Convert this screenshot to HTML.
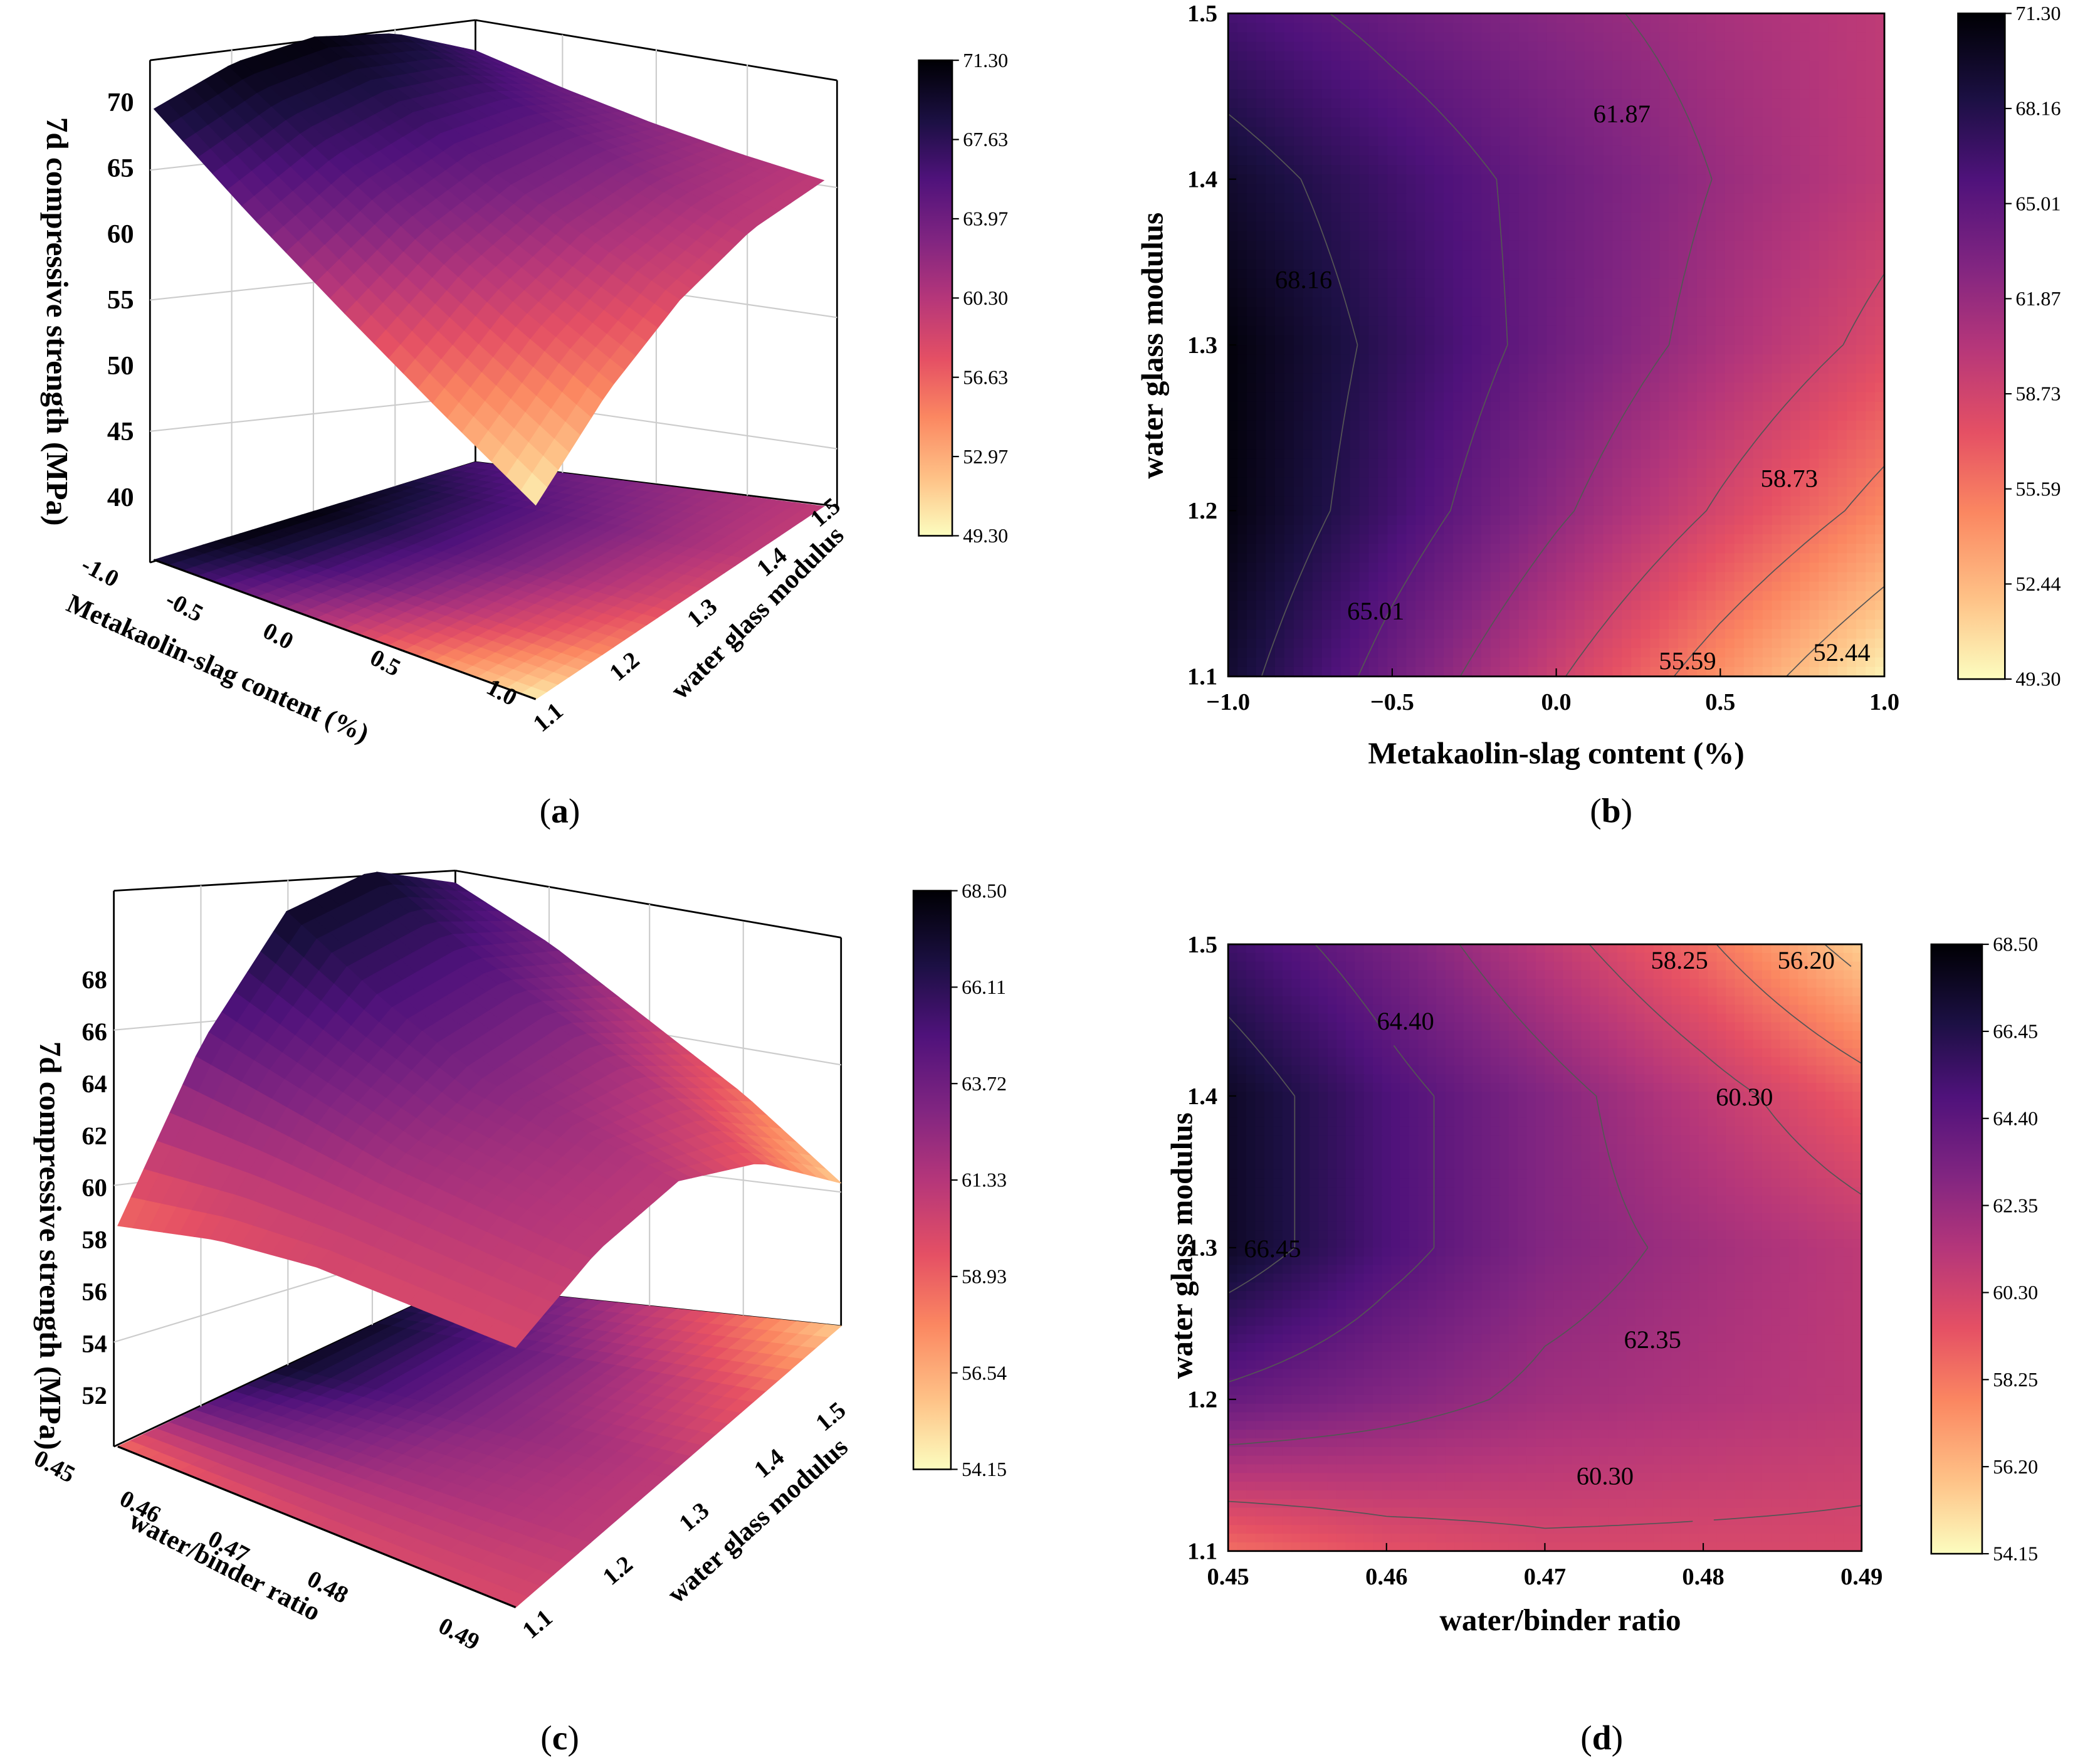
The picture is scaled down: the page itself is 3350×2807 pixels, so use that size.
<!DOCTYPE html>
<html><head><meta charset="utf-8"><style>
html,body{margin:0;padding:0;background:#fff;}
svg{display:block;font-family:"Liberation Serif",serif;}
</style></head><body>
<svg id="fig" width="3350" height="2807" viewBox="0 0 1568 1314" preserveAspectRatio="none" xmlns="http://www.w3.org/2000/svg">
<defs>
<linearGradient id="cmap" x1="0" y1="1" x2="0" y2="0">
<stop offset="0" stop-color="rgb(252,253,191)"/><stop offset="0.12" stop-color="rgb(254,194,135)"/><stop offset="0.25" stop-color="rgb(251,135,97)"/><stop offset="0.37" stop-color="rgb(229,80,100)"/><stop offset="0.5" stop-color="rgb(181,54,122)"/><stop offset="0.62" stop-color="rgb(129,37,129)"/><stop offset="0.75" stop-color="rgb(79,18,123)"/><stop offset="0.87" stop-color="rgb(28,16,68)"/><stop offset="1" stop-color="rgb(0,0,4)"/>
</linearGradient>
</defs>
<g id="pa"></g>
<g id="pb"></g>
<g id="pc"></g>
<g id="pd"></g>
<g id="txt" font-size="19"></g>
</svg>
<script>
// ---- data ----
const bX=[-1,-0.5,0,0.5,1];
const bY=[1.1,1.2,1.3,1.4,1.5];
const bZ=[[69.25,63.9,59.0,54.25,49.75],[70.9,66.5,62.3,58.4,54.7],[71.0,67.4,64.0,60.9,58.0],[69.4,66.6,64.1,61.75,59.7],[66.25,64.25,62.5,61.0,59.75]];
const dX=[0.45,0.46,0.47,0.48,0.49];
const dY=[1.1,1.2,1.3,1.4,1.5];
const dZ=[[58.5,59.5,60.0,60.0,60.0],[64.0,63.0,62.0,61.5,61.0],[67.5,65.0,63.0,62.0,61.0],[67.5,65.0,63.0,61.0,59.0],[65.5,63.5,61.0,58.5,55.5]];
const abRange=[49.3,71.3];
const cdRange=[54.15,68.5];
const abBarTicks=["71.30","67.63","63.97","60.30","56.63","52.97","49.30"];
const bBarTicks=["71.30","68.16","65.01","61.87","58.73","55.59","52.44","49.30"];
const cBarTicks=["68.50","66.11","63.72","61.33","58.93","56.54","54.15"];
const dBarTicks=["68.50","66.45","64.40","62.35","60.30","58.25","56.20","54.15"];
const bXTicks=["−1.0","−0.5","0.0","0.5","1.0"];
const bYTicks=["1.1","1.2","1.3","1.4","1.5"];
const dXTicks=["0.45","0.46","0.47","0.48","0.49"];
const dYTicks=["1.1","1.2","1.3","1.4","1.5"];
const aZTicks=[40,45,50,55,60,65,70];
const cZTicks=[52,54,56,58,60,62,64,66,68];
const bLevels=[52.44,55.59,58.73,61.87,65.01,68.16];
const dLevels=[56.20,58.25,60.30,62.35,64.40,66.45];
const bLabels=[["61.87",0.2,1.44],["68.16",-0.77,1.34],["58.73",0.71,1.22],["65.01",-0.55,1.14],["55.59",0.4,1.11],["52.44",0.87,1.115]];
const dLabels=[["58.25",0.4785,1.49],["56.20",0.4865,1.49],["64.40",0.4612,1.45],["60.30",0.4826,1.4],["66.45",0.4528,1.3],["62.35",0.4768,1.24],["60.30",0.4738,1.15]];

const NS="http://www.w3.org/2000/svg";
function el(p,tag,attrs){const e=document.createElementNS(NS,tag);for(const k in attrs)e.setAttribute(k,attrs[k]);p.appendChild(e);return e;}
const stops=[[0,252,253,191],[0.12,254,194,135],[0.25,251,135,97],[0.37,229,80,100],[0.5,181,54,122],[0.62,129,37,129],[0.75,79,18,123],[0.87,28,16,68],[1,0,0,4]];
function cmap(t){t=Math.max(0,Math.min(1,t));for(let i=1;i<stops.length;i++){if(t<=stops[i][0]){const a=stops[i-1],b=stops[i],f=(t-a[0])/(b[0]-a[0]);return `rgb(${Math.round(a[1]+f*(b[1]-a[1]))},${Math.round(a[2]+f*(b[2]-a[2]))},${Math.round(a[3]+f*(b[3]-a[3]))})`;}}return "rgb(0,0,4)";}
function interp(Z,u,v){const n=Z.length-1;let fy=v*n,fx=u*n;let i=Math.min(n-1,Math.floor(fy)),j=Math.min(n-1,Math.floor(fx));const ty=fy-i,tx=fx-j;
return Z[i][j]*(1-tx)*(1-ty)+Z[i][j+1]*tx*(1-ty)+Z[i+1][j]*(1-tx)*ty+Z[i+1][j+1]*tx*ty;}
const T=document.getElementById('txt');
function text(x,y,s,opt){opt=opt||{};const e=el(T,'text',{x:x,y:y,'text-anchor':opt.anchor||'middle','font-size':opt.size||19,'font-weight':opt.bold?'bold':'normal'});if(opt.rot!==undefined)e.setAttribute('transform',`rotate(${opt.rot} ${x} ${y})`);e.textContent=s;


return e;}

// ---- contour panel ----
function contour(g,X,Y,Z,rng,box,xt,yt,labels,levels,name){
 const [x0,y0,x1,y1]=box,N=70;const w=(x1-x0)/N,h=(y1-y0)/N;
 for(let i=0;i<N;i++)for(let j=0;j<N;j++){const u=(j+0.5)/N,v=1-(i+0.5)/N;const z=interp(Z,u,v);
  const r=el(g,'rect',{x:x0+j*w,y:y0+i*h,width:w+0.6,height:h+0.6,fill:cmap((z-rng[0])/(rng[1]-rng[0]))});
  
  }
 // contour lines (marching squares)
 const M=60;const val=(i,j)=>interp(Z,j/M,1-i/M);const px=j=>x0+j/M*(x1-x0),py=i=>y0+i/M*(y1-y0);
 levels.forEach(L=>{let d='';
  for(let i=0;i<M;i++)for(let j=0;j<M;j++){const a=val(i,j),b=val(i,j+1),c=val(i+1,j+1),e=val(i+1,j);const pts=[];
   if((a-L)*(b-L)<0){const t=(L-a)/(b-a);pts.push([px(j+t),py(i)]);}
   if((b-L)*(c-L)<0){const t=(L-b)/(c-b);pts.push([px(j+1),py(i+t)]);}
   if((e-L)*(c-L)<0){const t=(L-e)/(c-e);pts.push([px(j+t),py(i+1)]);}
   if((a-L)*(e-L)<0){const t=(L-a)/(e-a);pts.push([px(j),py(i+t)]);}
   for(let k=0;k+1<pts.length;k+=2)d+=`M${pts[k][0].toFixed(1)},${pts[k][1].toFixed(1)}L${pts[k+1][0].toFixed(1)},${pts[k+1][1].toFixed(1)}`;}
  const p=el(g,'path',{d:d,fill:'none',stroke:'#555','stroke-width':0.8});
  
  });
 const fr=el(g,'rect',{x:x0,y:y0,width:x1-x0,height:y1-y0,fill:'none',stroke:'#000','stroke-width':1.3});
 
 
 const sx=v=>x0+(v-X[0])/(X[X.length-1]-X[0])*(x1-x0), sy=v=>y1-(v-Y[0])/(Y[Y.length-1]-Y[0])*(y1-y0);
 X.forEach((v,i)=>{el(g,'line',{x1:sx(v),x2:sx(v),y1:y1,y2:y1-6,stroke:'#000'});text(sx(v),y1+25,xt[i],{bold:true,size:18,name:'x-tick-label'});});
 Y.forEach((v,i)=>{el(g,'line',{x1:x0,x2:x0+6,y1:sy(v),y2:sy(v),stroke:'#000'});text(x0-8,sy(v)+6,yt[i],{bold:true,size:18,anchor:'end',name:'y-tick-label'});});
 labels.forEach(l=>text(sx(l[1]),sy(l[2])+7,l[0],{size:19,name:'contour-label'}));
}
function colorbar(g,x,y,w,h,ticks,name){
 const r=el(g,'rect',{x:x,y:y,width:w,height:h,fill:'url(#cmap)',stroke:'#000','stroke-width':1.2});
 
 
 ticks.forEach((t,i)=>{const yy=y+i*h/(ticks.length-1);el(g,'line',{x1:x+w,x2:x+w+5,y1:yy,y2:yy,stroke:'#000'});text(x+w+8,yy+5,t,{anchor:'start',size:15,name:'colorbar-tick-label'});});
}
// ---- 3D panel ----
function surf3d(g,Z,rng,P,zb,k,box){
 const N=26;
 const fl=(u,v)=>[P[0][0]*(1-u)*(1-v)+P[1][0]*u*(1-v)+P[2][0]*(1-u)*v+P[3][0]*u*v,P[0][1]*(1-u)*(1-v)+P[1][1]*u*(1-v)+P[2][1]*(1-u)*v+P[3][1]*u*v];
 box.forEach(l=>el(g,'line',{x1:l[0],y1:l[1],x2:l[2],y2:l[3],stroke:l[4]||'#000','stroke-width':l[5]||1.3}));
 const col=z=>cmap((z-rng[0])/(rng[1]-rng[0]));
 for(let i=0;i<N;i++)for(let j=0;j<N;j++){const u0=j/N,u1=(j+1)/N,v0=i/N,v1=(i+1)/N;const z=interp(Z,(u0+u1)/2,(v0+v1)/2);
  const pts=[fl(u0,v0),fl(u1,v0),fl(u1,v1),fl(u0,v1)].map(p=>p.join(',')).join(' ');
  const p=el(g,'polygon',{points:pts,fill:col(z),stroke:col(z),'stroke-width':0.6});
  
  }
 const c=[fl(0,0),fl(1,0),fl(1,1),fl(0,1)];
 el(g,'polyline',{points:[c[0],c[1]].map(p=>p.join(',')).join(' '),fill:'none',stroke:'#000','stroke-width':1.5});
 const quads=[];
 for(let i=0;i<N;i++)for(let j=0;j<N;j++){const u0=j/N,u1=(j+1)/N,v0=i/N,v1=(i+1)/N;
  const sp=(u,v)=>{const f=fl(u,v);return [f[0],f[1]-(interp(Z,u,v)-zb)*k];};
  quads.push({key:(u0+u1)/2-(v0+v1)/2,pts:[sp(u0,v0),sp(u1,v0),sp(u1,v1),sp(u0,v1)],z:interp(Z,(u0+u1)/2,(v0+v1)/2)});}
 quads.sort((a,b)=>a.key-b.key);
 quads.forEach(q=>{const p=el(g,'polygon',{points:q.pts.map(p=>p.join(',')).join(' '),fill:col(q.z),stroke:col(q.z),'stroke-width':0.6});
  
  });
}

// Panel (b)
contour(document.getElementById('pb'),bX,bY,bZ,abRange,[917,10,1407,505],bXTicks,bYTicks,bLabels,bLevels,'b');
colorbar(document.getElementById('pb'),1462,10,35,497,bBarTicks,'colorbar-b');
text(1162,570,"Metakaolin-slag content (%)",{bold:true,size:23,name:'x-axis-title-b'});
text(868,258,"water glass modulus",{bold:true,size:23,rot:-90,name:'y-axis-title-b'});
// Panel (d)
contour(document.getElementById('pd'),dX,dY,dZ,cdRange,[917,705,1390,1158],dXTicks,dYTicks,dLabels,dLevels,'d');
colorbar(document.getElementById('pd'),1442,705,38,455,dBarTicks,'colorbar-d');
text(1165,1217,"water/binder ratio",{bold:true,size:23,name:'x-axis-title-d'});
text(890,930,"water glass modulus",{bold:true,size:23,rot:-90,name:'y-axis-title-d'});

// Panel (a)
const ga=document.getElementById('pa');
const aBox=[[112,45,112,420],[355,15,355,345],[625,60,625,378],[112,45,355,15],[355,15,625,60],[112,420,355,345],[355,345,625,378],
[173,37,173,400,'#ccc',1],[234,30,234,382,'#ccc',1],[295,22,295,364,'#ccc',1],[420,26,420,353,'#ccc',1],[490,37,490,361,'#ccc',1],[558,48,558,370,'#ccc',1],
[112,127,355,100,'#ccc',1],[112,224,355,198,'#ccc',1],[112,322,355,296,'#ccc',1],[355,100,625,140,'#ccc',1],[355,198,625,237,'#ccc',1],[355,296,625,335,'#ccc',1]];
surf3d(ga,bZ,abRange,[[115,418],[400,522],[355,345],[615,378]],35,9.83,aBox);
colorbar(ga,686,45,25,355,abBarTicks,'colorbar-a');
aZTicks.forEach((z,i)=>text(100,420-(z-35)*9.83+7,String(z),{anchor:'end',bold:true,size:20,name:'z-tick-label'}));
[["-1.0",72,432],["-0.5",135,458],["0.0",205,480],["0.5",285,500],["1.0",372,522]].forEach(t=>text(t[1],t[2],t[0],{bold:true,size:18,rot:28,name:'x-tick-label'}));
[["1.1",413,540],["1.2",470,502],["1.3",528,462],["1.4",580,424],["1.5",620,387]].forEach(t=>text(t[1],t[2],t[0],{bold:true,size:18,rot:-40,name:'y-tick-label'}));
text(160,505,"Metakaolin-slag content (%)",{bold:true,size:20,rot:24,name:'x-axis-title-a'});
text(570,462,"water glass modulus",{bold:true,size:20,rot:-45,name:'y-axis-title-a'});
text(35,240,"7d compressive strength (MPa)",{bold:true,size:23,rot:90,name:'z-axis-title-a'});

// Panel (c)
const gc=document.getElementById('pc');
const cBox=[[85,665,85,1080],[340,650,340,960],[628,700,628,990],[85,665,340,650],[340,650,628,700],[85,1080,340,960],[340,960,628,990],
[150,661,150,1050,'#ccc',1],[215,657,215,1020,'#ccc',1],[278,654,278,990,'#ccc',1],[410,662,410,967,'#ccc',1],[485,675,485,975,'#ccc',1],[555,688,555,982,'#ccc',1],
[85,769,340,746,'#ccc',1],[85,885,340,855,'#ccc',1],[85,1002,340,925,'#ccc',1],[340,746,628,795,'#ccc',1],[340,855,628,890,'#ccc',1]];
surf3d(gc,dZ,cdRange,[[88,1080],[385,1200],[340,960],[628,990]],50,19.4,cBox);
colorbar(gc,682,665,28,432,cBarTicks,'colorbar-c');
cZTicks.forEach(z=>text(80,1080-(z-50)*19.4+7,String(z),{anchor:'end',bold:true,size:19,name:'z-tick-label'}));
[["0.45",38,1100],["0.46",102,1130],["0.47",168,1160],["0.48",242,1190],["0.49",340,1225]].forEach(t=>text(t[1],t[2],t[0],{bold:true,size:18,rot:28,name:'x-tick-label'}));
[["1.1",405,1217],["1.2",465,1177],["1.3",522,1137],["1.4",578,1097],["1.5",624,1062]].forEach(t=>text(t[1],t[2],t[0],{bold:true,size:18,rot:-40,name:'y-tick-label'}));
text(165,1175,"water/binder ratio",{bold:true,size:20,rot:27,name:'x-axis-title-c'});
text(570,1140,"water glass modulus",{bold:true,size:20,rot:-42,name:'y-axis-title-c'});
text(30,930,"7d compressive strength (MPa)",{bold:true,size:23,rot:90,name:'z-axis-title-c'});

// panel captions
[["a",418,614],["b",1203,614],["c",418,1306],["d",1196,1306]].forEach(p=>{const e=el(T,'text',{x:p[1],y:p[2],'text-anchor':'middle','font-size':26});


e.innerHTML=`(<tspan font-weight="bold">${p[0]}</tspan>)`;});
</script>
</body></html>
